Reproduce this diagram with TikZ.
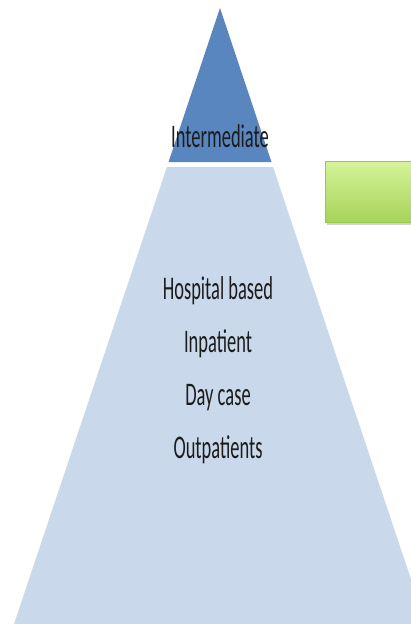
\documentclass[tikz,border=0pt]{standalone}
\usepackage{fontspec}
\setmainfont{Carlito}
\usetikzlibrary{shadows}
\definecolor{darkblue}{HTML}{5A86C0}
\definecolor{lightblue}{HTML}{C9D9EB}
\definecolor{greentop}{HTML}{D6F29A}
\definecolor{greenbot}{HTML}{A6D45A}
\definecolor{greenedge}{HTML}{98C850}
\definecolor{txt}{HTML}{1C1C1C}
\tikzset{
  lbl/.style={anchor=base, text=txt, font=\fontsize{33}{33}\selectfont, inner sep=0pt},
}
\newcommand{\sq}[1]{\scalebox{0.56}[1]{#1}}
\begin{document}
\begin{tikzpicture}[x=1pt,y=-1pt]
\useasboundingbox (0,0) rectangle (411,624);
\begin{scope}
\clip (0,0) rectangle (411,624);
% light trapezoid
\fill[lightblue] (166.9,167) -- (273.1,167) -- (426,624) -- (14,624) -- cycle;
% dark apex triangle
\fill[darkblue] (220,8) -- (271.5,162) -- (168.5,162) -- cycle;
% green box with shadow
\fill[black!35, opacity=0.5] (327,164) rectangle (420,225);
\shade[top color=greentop, bottom color=greenbot, draw=greenedge, line width=0.8pt] (325,161) rectangle (420,222);
\end{scope}
\node[lbl] (inter) at (220,147) {\sq{Intermediate}};
\node[lbl] (hosp) at (218,299) {\sq{Hospital based}};
\node[lbl] (inpat) at (218,352) {\sq{Inpatient}};
\node[lbl] (day) at (218,405) {\sq{Day case}};
\node[lbl] (outp) at (218,458) {\sq{Outpatients}};
\end{tikzpicture}
\end{document}
